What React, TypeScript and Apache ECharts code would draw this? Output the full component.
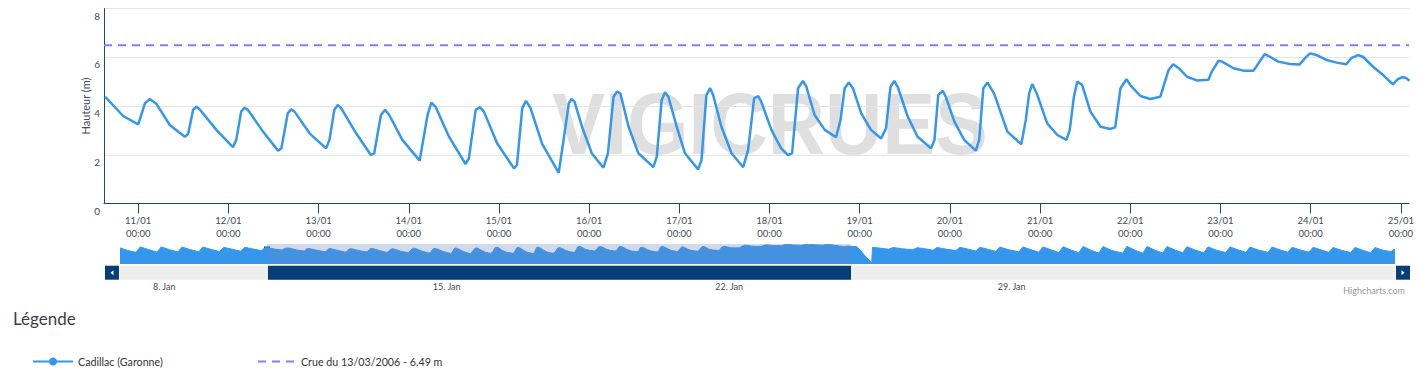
import React, { useEffect, useRef } from 'react';
import * as echarts from 'echarts';

// ---------- data (hours are relative to 11/01/2018 00:00, local time) ----------
const seriesName = 'Cadillac (Garonne)';
const crueName = 'Crue du 13/03/2006 - 6.49 m';
const crueLevel = 6.49;

const hours = [
  -8.8, -4.0, 0.0, 1.8, 3.1, 4.9, 8.4, 12.4, 13.3, 14.6, 15.5, 16.4, 20.8, 25.2, 26.1, 27.4, 28.3, 29.2,
  33.2, 37.2, 38.1, 39.8, 40.7, 41.6, 45.6, 50.0, 50.9, 52.2, 53.1, 54.0, 58.0, 61.9, 62.8, 64.6, 65.7, 66.8,
  70.3, 74.9, 77.0, 78.0, 79.2, 82.7, 87.1, 88.0, 89.8, 90.9, 92.0, 95.5, 100.0, 100.8, 102.2, 103.2, 104.4,
  107.5, 111.9, 113.2, 114.6, 115.3, 116.1, 118.1, 120.7, 123.8, 125.0, 126.5, 127.4, 128.3, 130.5, 133.1,
  137.1, 138.0, 139.3, 140.2, 141.1, 143.3, 145.5, 149.0, 149.9, 151.2, 152.2, 153.0, 155.2, 157.9, 161.0,
  162.3, 163.9, 165.0, 165.8, 168.5, 171.1, 172.9, 174.0, 175.6, 176.9, 177.8, 180.0, 182.7, 185.7, 186.9,
  188.0, 189.1, 190.2, 192.4, 195.0, 197.7, 199.0, 200.2, 201.2, 202.1, 204.8, 207.4, 211.0, 211.9, 212.9,
  214.1, 214.9, 217.2, 219.8, 222.9, 223.8, 224.9, 226.0, 227.8, 231.3, 235.0, 236.2, 237.1, 237.9, 239.1,
  241.9, 244.6, 247.0, 247.9, 249.0, 249.9, 251.2, 253.4, 256.1, 258.7, 260.0, 261.4, 263.0, 264.0, 266.7,
  269.3, 272.0, 274.2, 275.4, 276.9, 279.1, 281.7, 284.8, 285.7, 287.5, 288.4, 291.5, 294.1, 296.8, 298.1,
  299.8, 301.2, 303.4, 306.5, 309.0, 310.5, 311.8, 313.6, 316.2, 318.9, 321.5, 322.8, 324.6, 325.9, 328.6,
  331.3, 333.9, 335.2, 336.4, 337.3, 338.3,
];
const heights = [
  4.38, 3.59, 3.25, 4.11, 4.29, 4.08, 3.22, 2.74, 2.85, 3.84, 3.97, 3.86, 3.02, 2.31, 2.61, 3.77, 3.93, 3.84,
  2.95, 2.17, 2.26, 3.70, 3.86, 3.77, 2.88, 2.26, 2.61, 3.84, 4.04, 3.91, 2.88, 1.99, 2.06, 3.63, 3.84, 3.63,
  2.61, 1.76, 3.63, 4.14, 3.95, 2.74, 1.62, 1.85, 3.84, 3.95, 3.77, 2.47, 1.44, 1.58, 3.91, 4.21, 3.91,
  2.45, 1.26, 2.61, 4.11, 4.29, 4.18, 3.15, 2.06, 1.47, 2.06, 4.38, 4.59, 4.52, 3.15, 2.06,
  1.49, 1.92, 4.25, 4.56, 4.38, 3.15, 2.06, 1.40, 1.78, 4.45, 4.73, 4.45, 3.15, 2.06, 1.49,
  2.19, 4.31, 4.41, 4.18, 3.02, 2.26, 1.99, 2.06, 4.73, 5.03, 4.79, 3.63, 3.02, 2.72, 3.43,
  4.73, 4.96, 4.73, 3.70, 3.02, 2.67, 3.08, 4.79, 5.03, 4.79, 3.56, 2.74, 2.26, 2.61, 4.45,
  4.62, 4.38, 3.36, 2.61, 2.17, 2.61, 4.73, 4.97, 4.50, 2.95, 2.43, 3.43, 4.52, 4.90, 4.52,
  3.29, 2.81, 2.61, 3.02, 4.38, 5.00, 4.86, 3.77, 3.15, 3.06, 3.13, 4.73, 5.10, 4.86, 4.41,
  4.29, 4.38, 5.48, 5.71, 5.55, 5.20, 5.05, 5.08, 5.41, 5.86, 5.82, 5.55, 5.45, 5.45, 5.75,
  6.13, 6.02, 5.82, 5.72, 5.70, 5.96, 6.16, 6.09, 5.89, 5.78, 5.71, 5.96, 6.09, 6.02, 5.61,
  5.27, 4.89, 5.10, 5.18, 5.16, 5.04,
];

// navigator only: values read before and after the zoomed window
const navBeforeHours = [
  -96.5, -92.0, -87.0, -84.4, -79.4, -74.5, -72.0, -67.0, -62.1, -59.6, -54.6, -49.7, -47.2,
  -42.2, -37.3, -34.8, -29.8, -24.8, -22.3, -17.3, -12.5, -10.0,
];
const navBeforeHeights = [
  4.3, 3.0, 2.0, 4.8, 3.4, 2.1, 4.8, 3.4, 2.2, 4.7, 3.4, 2.3, 4.7,
  3.5, 2.4, 4.6, 3.6, 2.6, 4.6, 3.7, 2.9, 4.5,
];
const navAfterHours = [
  341.6, 350.5, 351.0, 355.0, 360.6, 363.2, 368.2, 375.0, 377.5, 382.5, 387.0, 389.4, 394.4, 400.5,
  403.0, 408.0, 412.4, 414.9, 419.9, 424.3, 426.8, 431.8, 438.0, 440.5, 445.5, 449.9, 452.4, 457.4,
  461.8, 464.3, 469.3, 473.7, 476.2, 481.2, 485.6, 488.1, 493.1, 499.8, 502.3, 507.3, 511.8, 514.3,
  519.3, 523.6, 526.1, 531.1, 535.5, 538.0, 543.0, 548.0, 550.5, 555.5, 561.1, 563.6, 568.6, 573.0,
  575.5, 580.5, 586.1, 588.6, 593.6, 598.0, 600.5, 605.5, 610.5, 613.0, 618.0, 622.3, 624.8, 629.8,
  635.4, 637.9, 642.9, 647.3, 649.8, 654.8, 659.5, 660.5, 661.7,
];
const navAfterHeights = [
  5.0, -3.5, 4.6, 4.2, 3.6, 4.5, 3.9, 3.3, 4.4, 3.8, 3.1, 4.5, 3.7, 2.9,
  4.6, 3.6, 2.7, 4.6, 3.5, 2.5, 4.7, 3.4, 2.3, 4.8, 3.3, 2.1, 4.8, 3.2,
  1.9, 4.9, 3.1, 1.8, 5.0, 3.0, 1.7, 5.0, 3.0, 1.6, 5.1, 3.0, 1.6, 5.0,
  3.0, 1.7, 5.0, 3.1, 1.8, 4.9, 3.1, 1.8, 4.8, 3.1, 1.9, 4.8, 3.2, 2.0,
  4.7, 3.2, 2.0, 4.7, 3.2, 2.1, 4.6, 3.2, 2.1, 4.6, 3.2, 2.0, 4.5, 3.1,
  1.9, 4.5, 3.0, 1.8, 4.5, 3.0, 2.4, 3.4, 3.4,
];

const dayTicks = [
  '2018-01-11', '2018-01-12', '2018-01-13', '2018-01-14', '2018-01-15', '2018-01-16', '2018-01-17',
  '2018-01-18', '2018-01-19', '2018-01-20', '2018-01-21', '2018-01-22', '2018-01-23', '2018-01-24', '2018-01-25',
];
const weekTicks = ['2018-01-08', '2018-01-15', '2018-01-22', '2018-01-29'];
const weekLabels = ['8. Jan', '15. Jan', '22. Jan', '29. Jan'];

const viewStartHour = -9.1;
const viewEndHour = 338.2;
const navStartHour = -96.5;
const navEndHour = 661.7;
const navYMin = -4;
const navYMax = 6.3;

// ---------- helpers ----------
const BASE = new Date(2018, 0, 11, 0, 0, 0).getTime();
const HOUR = 3600000;
const dayToHour = (s: string) => {
  const [y, m, d] = s.split('-').map(Number);
  return Math.round((new Date(y, m - 1, d).getTime() - BASE) / HOUR);
};
const pad2 = (n: number) => String(n).padStart(2, '0');

const FONT = 'Lato, "Open Sans", sans-serif';
const NAVY = '#073d79';
const AXIS = '#1f4681';
const LABEL = '#444b55';
const BLUE = '#3597ec';
const CRUE = '#8080f2';

export default function App() {
  const ref = useRef<HTMLDivElement>(null);

  useEffect(() => {
    if (!ref.current) return;
    const chart = echarts.init(ref.current, undefined, { renderer: 'svg' });

    const mainData = hours.map((h, i) => [h, heights[i]]);
    const navData = [
      ...navBeforeHours.map((h, i) => [h, navBeforeHeights[i]]),
      ...mainData,
      ...navAfterHours.map((h, i) => [h, navAfterHeights[i]]),
    ];
    const dayHours = dayTicks.map(dayToHour);
    const weekHours = weekTicks.map(dayToHour);

    const baseGraphics: any[] = [
      {
        type: 'text',
        id: 'wm',
        x: 770,
        y: 124,
        scaleX: 0.9,
        z: 0,
        silent: true,
        style: {
          text: 'VIGICRUES',
          font: 'bold 88px "Liberation Sans", Arial, sans-serif',
          fill: '#dfdfdf',
          textAlign: 'center',
          textVerticalAlign: 'middle',
        },
      },
      {
        type: 'text',
        id: 'credits',
        x: 1405,
        y: 290,
        style: {
          text: 'Highcharts.com',
          font: '9px ' + FONT,
          fill: '#999999',
          textAlign: 'right',
          textVerticalAlign: 'middle',
        },
      },
    ];

    const option: any = {
      animation: false,
      textStyle: { fontFamily: FONT },
      title: {
        text: 'Légende',
        left: 8,
        top: 305,
        textStyle: { fontSize: 17, fontWeight: 'normal', color: '#3a3f47', fontFamily: FONT },
      },
      legend: [
        {
          data: [seriesName],
          left: 27,
          top: 351,
          itemWidth: 40,
          itemHeight: 10,
          textStyle: { fontSize: 10.7, color: '#333' },
        },
        {
          data: [crueName],
          left: 252,
          top: 351,
          itemWidth: 38,
          itemHeight: 10,
          itemStyle: { opacity: 0 },
          textStyle: { fontSize: 10.7, color: '#333' },
        },
      ],
      grid: [
        { left: 104, right: 4, top: 8.5, height: 195 },
        { left: 120, width: 1275, top: 244, height: 20 },
      ],
      xAxis: [
        {
          type: 'value',
          gridIndex: 0,
          min: viewStartHour,
          max: viewEndHour,
          axisLine: { show: true, onZero: false, lineStyle: { color: AXIS, width: 1 } },
          axisTick: { show: true, customValues: dayHours, length: 10, lineStyle: { color: AXIS } },
          axisLabel: {
            customValues: dayHours,
            margin: 11,
            fontSize: 9.5,
            lineHeight: 12.5,
            color: LABEL,
            formatter: (v: number) => {
              const d = new Date(BASE + v * HOUR);
              return `${pad2(d.getDate())}/${pad2(d.getMonth() + 1)}\n${pad2(d.getHours())}:${pad2(d.getMinutes())}`;
            },
          },
          splitLine: { show: false },
        },
        {
          type: 'value',
          gridIndex: 1,
          min: navStartHour,
          max: navEndHour,
          axisLine: { show: false, onZero: false },
          axisTick: { show: false },
          axisLabel: {
            customValues: weekHours,
            margin: 18,
            fontSize: 9,
            color: LABEL,
            padding: [0, 0, 0, 6],
            formatter: (v: number) => {
              const i = weekHours.findIndex((w) => Math.abs(w - v) < 0.01);
              return i >= 0 ? weekLabels[i] : '';
            },
          },
          splitLine: { show: false },
        },
      ],
      yAxis: [
        {
          type: 'value',
          gridIndex: 0,
          min: 0,
          max: 8,
          interval: 2,
          name: 'Hauteur (m)',
          nameLocation: 'middle',
          nameGap: 13,
          nameMoveOverlap: false,
          nameRotate: 90,
          nameTextStyle: { fontSize: 11, color: LABEL },
          axisLine: { show: true, onZero: false, lineStyle: { color: AXIS, width: 1 } },
          axisTick: { show: false },
          axisLabel: { margin: 4, fontSize: 10, color: LABEL, verticalAlign: 'top', padding: [2, 0, 0, 0] },
          splitLine: { show: true, lineStyle: { color: '#e6e6e6', width: 1 } },
        },
        {
          type: 'value',
          gridIndex: 1,
          min: navYMin,
          max: navYMax,
          show: false,
          splitLine: { show: false },
        },
      ],
      series: [
        {
          name: seriesName,
          type: 'line',
          xAxisIndex: 0,
          yAxisIndex: 0,
          data: mainData,
          showSymbol: false,
          symbol: 'circle',
          symbolSize: 8,
          clip: true,
          z: 3,
          lineStyle: { color: BLUE, width: 2.5 },
          itemStyle: { color: BLUE },
        },
        {
          name: crueName,
          type: 'line',
          xAxisIndex: 0,
          yAxisIndex: 0,
          data: [
            [viewStartHour, crueLevel],
            [viewEndHour, crueLevel],
          ],
          symbol: 'none',
          showSymbol: false,
          clip: true,
          z: 3,
          lineStyle: { color: CRUE, width: 2, type: [8, 6] },
          itemStyle: { color: CRUE },
        },
        {
          type: 'line',
          xAxisIndex: 1,
          yAxisIndex: 1,
          data: navData,
          showSymbol: false,
          symbol: 'none',
          silent: true,
          lineStyle: { color: BLUE, width: 1 },
          areaStyle: { color: BLUE, opacity: 1, origin: 'start' },
          markArea: {
            silent: true,
            z: 10,
            itemStyle: { color: 'rgba(102,133,194,0.3)' },
            data: [[{ xAxis: viewStartHour }, { xAxis: viewEndHour }]],
          },
        },
      ],
      graphic: { elements: baseGraphics },
    };

    chart.setOption(option);

    // navigator decorations (handles + scrollbar) placed through the navigator axes
    const x1 = chart.convertToPixel({ xAxisIndex: 1 }, viewStartHour) as number;
    const x2 = chart.convertToPixel({ xAxisIndex: 1 }, viewEndHour) as number;
    const nl = chart.convertToPixel({ xAxisIndex: 1 }, navStartHour) as number;
    const nr = chart.convertToPixel({ xAxisIndex: 1 }, navEndHour) as number;
    const yt = chart.convertToPixel({ yAxisIndex: 1 }, navYMax) as number;
    const yb = chart.convertToPixel({ yAxisIndex: 1 }, navYMin) as number;
    const sy = yb + 1.7;
    const sh = 14;
    const mid = (x1 + x2) / 2;

    const handle = (x: number, id: string) => ({
      type: 'group',
      id,
      z: 20,
      children: [
        { type: 'rect', shape: { x: x - 3.5, y: yt + 2, width: 7, height: 16 }, style: { fill: NAVY, stroke: '#ffffff', lineWidth: 1 } },
        { type: 'line', shape: { x1: x - 1, y1: yt + 5.5, x2: x - 1, y2: yt + 14.5 }, style: { stroke: '#ffffff', lineWidth: 1 } },
        { type: 'line', shape: { x1: x + 1, y1: yt + 5.5, x2: x + 1, y2: yt + 14.5 }, style: { stroke: '#ffffff', lineWidth: 1 } },
      ],
    });

    const extra: any[] = [
      { type: 'rect', id: 'track', z: 5, shape: { x: nl, y: sy, width: nr - nl, height: sh }, style: { fill: '#eeeeee' } },
      { type: 'rect', id: 'bar', z: 6, shape: { x: x1 + 1, y: sy, width: x2 - x1 - 1, height: sh }, style: { fill: NAVY } },
      {
        type: 'group',
        id: 'grip',
        z: 7,
        children: [-3, 0, 3].map((dx) => ({
          type: 'line',
          shape: { x1: mid + dx, y1: sy + 4.5, x2: mid + dx, y2: sy + 9.5 },
          style: { stroke: '#ffffff', lineWidth: 1 },
        })),
      },
      { type: 'rect', id: 'btnL', z: 6, shape: { x: nl - 15, y: sy, width: 14, height: sh }, style: { fill: NAVY } },
      {
        type: 'polygon', id: 'triL', z: 7,
        shape: { points: [[nl - 6.5, sy + 4.5], [nl - 6.5, sy + 9.5], [nl - 9.5, sy + 7]] },
        style: { fill: '#ffffff' },
      },
      { type: 'rect', id: 'btnR', z: 6, shape: { x: nr + 1, y: sy, width: 14, height: sh }, style: { fill: NAVY } },
      {
        type: 'polygon', id: 'triR', z: 7,
        shape: { points: [[nr + 6.5, sy + 4.5], [nr + 6.5, sy + 9.5], [nr + 9.5, sy + 7]] },
        style: { fill: '#ffffff' },
      },
      handle(x1, 'hL'),
      handle(x2, 'hR'),
    ];

    chart.setOption({ graphic: { elements: [...baseGraphics, ...extra] } });

    return () => chart.dispose();
  }, []);

  return (
    <div
      ref={ref}
      style={{ position: 'fixed', left: 0, top: 0, width: 1417, height: 374, background: '#ffffff' }}
    />
  );
}
